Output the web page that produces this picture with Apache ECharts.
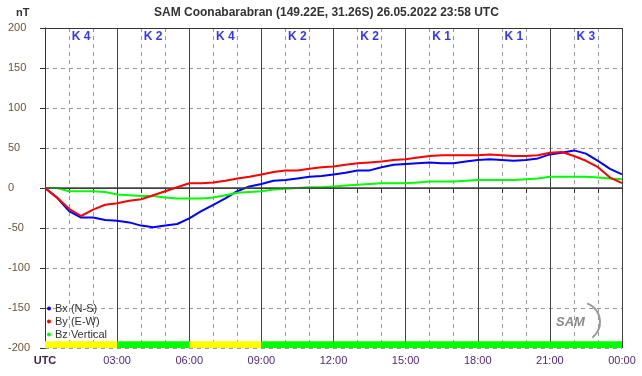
<!DOCTYPE html>
<html>
<head>
<meta charset="utf-8">
<script src="https://cdn.jsdelivr.net/npm/echarts@6/dist/echarts.min.js"></script>
<style>
  html, body { margin: 0; padding: 0; background: #fff; }
  #main { width: 642px; height: 376px; }
</style>
</head>
<body>
<div id="main"></div>
<script>
// hours since 00:00 UTC, half-hour steps
var hours = [];
for (var i = 0; i <= 48; i++) hours.push(i / 2);

var bx = [0, -12, -29, -37, -37, -40, -41, -43, -47, -49, -47, -45, -38, -29, -21, -13, -4, 2, 5, 9,
  10, 12, 14, 15, 17, 19, 22, 22, 26, 29, 30, 31, 32, 31, 31, 33, 35, 36, 35, 34,
  35, 37, 42, 44, 47, 43, 34, 24, 17];
var by = [0, -12, -26, -35, -27, -21, -19, -16, -14, -9, -4, 1, 6, 6, 7, 9, 12, 14, 17, 20,
  22, 22, 24, 26, 27, 29, 31, 32, 33, 35, 36, 38, 40, 41, 41, 41, 41, 42, 41, 40,
  40, 41, 44, 45, 40, 34, 26, 13, 6];
var bz = [0, 0, -4, -4, -4, -5, -8, -9, -10, -10, -12, -13, -13, -13, -12, -9, -6, -5, -4, -2,
  -1, 0, 1, 1, 2, 3, 4, 5, 6, 6, 6, 7, 8, 8, 8, 9, 10, 10, 10, 10,
  11, 12, 14, 14, 14, 14, 13, 12, 11];

// K index per 3-hour block
var kIndex = [4, 2, 4, 2, 2, 1, 1, 3];
var xLabels = ['UTC', '03:00', '06:00', '09:00', '12:00', '15:00', '18:00', '21:00', '00:00'];

function pairs(vals) {
  return vals.map(function (v, i) { return [hours[i], v]; });
}

var kMarks = kIndex.map(function (k, i) { return { value: [i * 3 + 1.5, 189], k: k }; });
var kBands = kIndex.map(function (k, i) {
  return [
    { xAxis: i * 3, yAxis: -200, itemStyle: { color: k >= 4 ? '#ffff00' : '#00ff00' } },
    { xAxis: i * 3 + 3, yAxis: -191.5 }
  ];
});

var myChart = echarts.init(document.getElementById('main'));
myChart.setOption({
  animation: false,
  backgroundColor: '#fff',
  textStyle: { fontFamily: 'Liberation Sans, Arial, sans-serif' },
  title: {
    text: 'SAM Coonabarabran (149.22E, 31.26S) 26.05.2022 23:58 UTC',
    left: 154, top: 7, padding: 0,
    textStyle: { fontSize: 12, fontWeight: 'bold', color: '#333' }
  },
  graphic: [
    { type: 'text', left: 16, top: 7, style: { text: 'nT', font: 'bold 11px Liberation Sans', fill: '#333' } },
    { type: 'text', left: 556, top: 316, style: { text: 'SAM', font: 'italic bold 13px Liberation Sans', fill: '#8a8a8a' } },
    { type: 'arc', shape: { cx: 580, cy: 322, r: 20, startAngle: -1.2, endAngle: 0.9 },
      style: { stroke: '#999', lineWidth: 2, fill: null } }
  ],
  legend: {
    data: ['Bx (N-S)', 'By (E-W)', 'Bz Vertical'],
    orient: 'vertical', left: 47, top: 302, padding: 0,
    icon: 'circle', itemWidth: 4, itemHeight: 4, itemGap: 0,
    textStyle: { fontSize: 11, color: '#333', lineHeight: 13, padding: [0, 0, 0, -1] }
  },
  grid: { left: 45, right: 20, top: 28, bottom: 28 },
  xAxis: [
    {
      type: 'value', min: 0, max: 24, interval: 1, position: 'bottom',
      axisLine: { show: true, lineStyle: { color: '#333' } },
      axisTick: { show: true, length: 5, lineStyle: { color: '#333' } },
      splitLine: { show: true, lineStyle: { color: '#999', type: [4, 4] } },
      axisLabel: {
        margin: 7, fontSize: 11, color: '#502878', showMaxLabel: true,
        formatter: function (v) {
          if (v % 3 !== 0) return '';
          return v === 0 ? '{u|UTC}' : xLabels[v / 3];
        },
        rich: { u: { fontWeight: 'bold', fontSize: 11, color: '#402848' } }
      }
    },
    {
      type: 'value', min: 0, max: 24, interval: 3, position: 'top',
      axisLine: { show: true, lineStyle: { color: '#333' } },
      axisTick: { show: false }, axisLabel: { show: false },
      splitLine: { show: true, lineStyle: { color: '#444' } }
    }
  ],
  yAxis: {
    type: 'value', min: -200, max: 200, interval: 50,
    axisLine: { show: true, lineStyle: { color: '#333' } },
    axisTick: { show: true, length: 5, lineStyle: { color: '#333' } },
    splitLine: { show: true, lineStyle: { color: '#999', type: [4, 4] } },
    axisLabel: { align: 'left', margin: 37, fontSize: 11, color: '#705238' }
  },
  series: [
    {
      name: 'Bx (N-S)', type: 'line', data: pairs(bx), showSymbol: false, z: 3,
      color: '#0000ff', lineStyle: { width: 2, color: '#0000ff' },
      markArea: { silent: true, data: kBands },
      markLine: {
        silent: true, symbol: 'none', label: { show: false },
        lineStyle: { color: '#444', type: 'solid', width: 1.5 },
        data: [{ yAxis: 0 }]
      }
    },
    {
      name: 'By (E-W)', type: 'line', data: pairs(by), showSymbol: false, z: 5,
      color: '#ff0000', lineStyle: { width: 2, color: '#ff0000' }
    },
    {
      name: 'Bz Vertical', type: 'line', data: pairs(bz), showSymbol: false, z: 4,
      color: '#00ff00', lineStyle: { width: 2, color: '#00ff00' }
    },
    {
      name: 'K', type: 'scatter', symbolSize: 0, silent: true, z: 6,
      data: kMarks,
      label: {
        show: true, position: 'inside', fontSize: 12, fontWeight: 'bold', color: '#0000ff',
        formatter: function (p) { return 'K ' + p.data.k; }
      }
    }
  ]
});
</script>
</body>
</html>
